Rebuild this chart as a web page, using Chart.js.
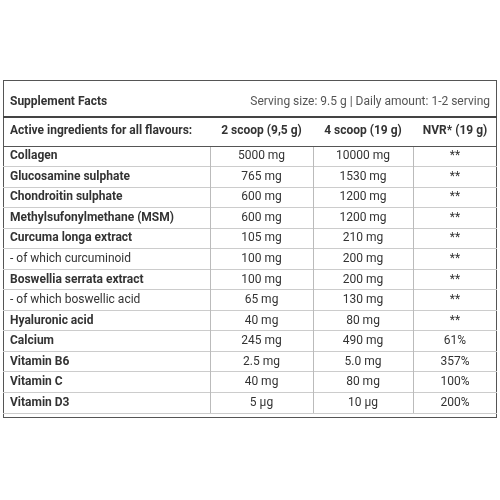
<!DOCTYPE html>
<html>
<head>
<meta charset="utf-8">
<script src="https://cdn.jsdelivr.net/npm/chart.js@4"></script>
<style>
html,body{margin:0;padding:0;background:#fff;}
#wrap{width:500px;height:500px;}
</style>
</head>
<body>
<div id="wrap"><canvas id="myChart" width="500" height="500"></canvas></div>
<script>
// Data of the table
const ingredients = ["Collagen", "Glucosamine sulphate", "Chondroitin sulphate", "Methylsufonylmethane (MSM)",
  "Curcuma longa extract", "- of which curcuminoid", "Boswellia serrata extract", "- of which boswellic acid",
  "Hyaluronic acid", "Calcium", "Vitamin B6", "Vitamin C", "Vitamin D3"];
const boldRows = [true, true, true, true, true, false, true, false, true, true, true, true, true];
const dose2 = ["5000 mg", "765 mg", "600 mg", "600 mg", "105 mg", "100 mg", "100 mg", "65 mg", "40 mg", "245 mg", "2.5 mg", "40 mg", "5 µg"];
const dose4 = ["10000 mg", "1530 mg", "1200 mg", "1200 mg", "210 mg", "200 mg", "200 mg", "130 mg", "80 mg", "490 mg", "5.0 mg", "80 mg", "10 µg"];
const nvr = ["**", "**", "**", "**", "**", "**", "**", "**", "**", "61%", "357%", "100%", "200%"];
const headers = ["Active ingredients for all flavours:", "2 scoop (9,5 g)", "4 scoop (19 g)", "NVR* (19 g)"];
const title = "Supplement Facts";
const serving = "Serving size: 9.5 g | Daily amount: 1-2 serving";

const colEdges = [0, 207, 310, 410, 494];

const tablePlugin = {
  id: 'table',
  beforeDraw(chart) {
    const c = chart.ctx;
    c.save();
    c.strokeStyle = '#555'; c.lineWidth = 1;
    c.strokeRect(3.5, 80.5, 493, 337);
    c.fillStyle = '#333';
    c.font = 'bold 12px Roboto'; c.textBaseline = 'middle'; c.textAlign = 'left';
    c.fillText(title, 10, 102);
    c.font = '12px Roboto'; c.fillStyle = '#555'; c.textAlign = 'right';
    c.fillText(serving, 490, 102);
    c.strokeStyle = '#444'; c.lineWidth = 2;
    c.beginPath(); c.moveTo(3, 117); c.lineTo(497, 117); c.stroke();
    c.restore();
  },
  afterDraw(chart) {
    const c = chart.ctx, xs = chart.scales.x, ys = chart.scales.y, ca = chart.chartArea;
    c.save();
    c.strokeStyle = '#bbb'; c.lineWidth = 1;
    for (let i = 1; i < 4; i++) {
      const x = Math.round(xs.getPixelForValue(colEdges[i])) + 0.5;
      c.beginPath(); c.moveTo(x, ca.top); c.lineTo(x, ca.bottom); c.stroke();
    }
    c.strokeStyle = '#555';
    c.beginPath(); c.moveTo(3, Math.round(ca.top) + 0.5); c.lineTo(497, Math.round(ca.top) + 0.5); c.stroke();
    c.textBaseline = 'middle'; c.fillStyle = '#333';
    const center = i => xs.getPixelForValue((colEdges[i] + colEdges[i + 1]) / 2);
    let y = ca.top - 15;
    c.font = 'bold 12px Roboto';
    c.textAlign = 'left'; c.fillText(headers[0], xs.getPixelForValue(7), y);
    c.textAlign = 'center';
    for (let i = 1; i < 4; i++) c.fillText(headers[i], center(i), y);
    ingredients.forEach((name, r) => {
      y = ys.getPixelForValue(r);
      c.font = (boldRows[r] ? 'bold ' : '') + '12px Roboto';
      c.textAlign = 'left'; c.fillText(name, xs.getPixelForValue(7), y);
      c.font = '12px Roboto'; c.textAlign = 'center';
      c.fillText(dose2[r], center(1), y);
      c.fillText(dose4[r], center(2), y);
      c.fillText(nvr[r], center(3), y);
    });
    c.restore();
  }
};

const config = {
  type: 'scatter',
  data: { datasets: [{ data: [], pointRadius: 0 }] },
  options: {
    responsive: false,
    animation: false,
    layout: { padding: { left: 3, right: 3, top: 146, bottom: 87 } },
    plugins: { legend: { display: false }, tooltip: { enabled: false } },
    scales: {
      x: { type: 'linear', min: 0, max: 494, display: false },
      y: {
        type: 'category', labels: ingredients, offset: true,
        ticks: { display: false },
        border: { display: false },
        grid: { offset: true, color: '#ccc', drawTicks: false }
      }
    }
  },
  plugins: [tablePlugin]
};

var myChart = new Chart(document.getElementById('myChart'), config);
</script>
</body>
</html>
